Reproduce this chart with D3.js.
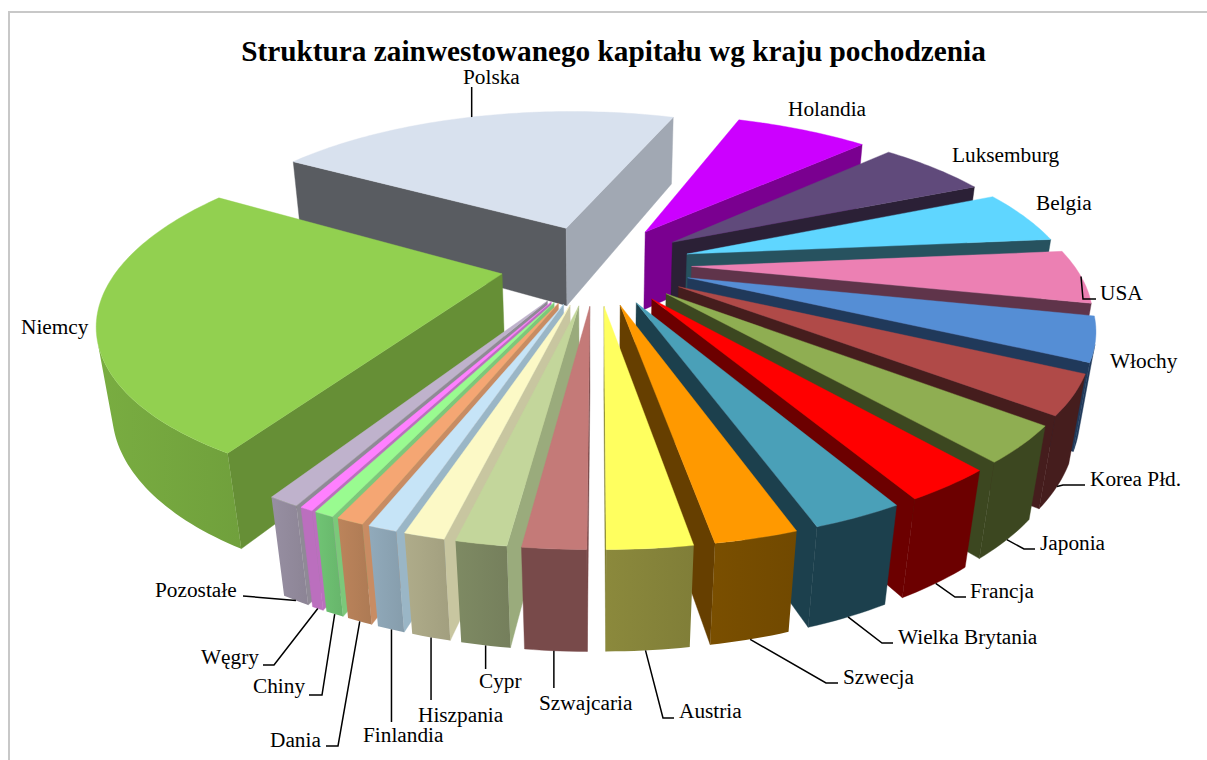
<!DOCTYPE html>
<html>
<head>
<meta charset="utf-8">
<script src="https://cdn.jsdelivr.net/npm/d3@7"></script>
<style>
  html, body { margin: 0; background: #fff; }
  svg { display: block; }
  text { font-family: "Liberation Serif", serif; fill: #000; }
</style>
</head>
<body>
<div id="chart"></div>
<script>
const width = 1207;
const height = 760;

// shares in percent, Polska first and then clockwise
const countries = ["Polska", "Holandia", "Luksemburg", "Belgia", "USA", "Włochy", "Korea Płd.", "Japonia", "Francja",
  "Wielka Brytania", "Szwecja", "Austria", "Szwajcaria", "Cypr", "Hiszpania", "Finlandia", "Dania", "Chiny", "Węgry",
  "Pozostałe", "Niemcy"];
const shares = [21.85, 7.1, 5.7, 5.1, 5.0, 4.0, 3.5, 3.2, 2.87, 2.83, 2.55, 2.58, 1.92, 1.55, 1.25, 0.9, 0.85, 0.62, 0.41, 0.98, 25.17];

const topColors = ["#d8e1ee", "#cc00ff", "#604a7b", "#5fd6ff", "#ec80b3", "#558ed5", "#b04a48", "#8fae52", "#ff0000",
  "#4aa0b8", "#ff9900", "#ffff5f", "#c47a78", "#c3d69b", "#fcf9c6", "#c6e4f7", "#f5a673", "#99fb90", "#ff80ff",
  "#bfb2cc", "#92d050"];
const wallColors = ["#595c61", "#7a0090", "#2b2036", "#27525f", "#5f344a", "#20395a", "#451d1d", "#3c4720", "#6c0000",
  "#1c404d", "#663f00", "#7f7d30", "#784a4a", "#9aab7c", "#c8c6a0", "#9ab6c6", "#c88c63", "#7cc87a", "#bb6fbe",
  "#8f8a96", "#668f36"];
const rimColors = ["#a1a8b3", "#7a0090", "#2b2036", "#27525f", "#5f344a", "#20395a", "#451d1d", "#3c4720", "#6c0000",
  "#1c404d", "#764c00", "#86843a", "#784a4a", "#7a8560", "#a9a685", "#8ca4b4", "#b57f58", "#6cbd70", "#bb6fbe",
  "#928a9c", "#75a73f"];
// Polska is the only slice showing both cut faces, the right one is lit
const endWallColors = wallColors.slice();
endWallColors[0] = "#a1a8b3";

// label text position and the elbow of its leader line, a null x keeps the line vertical
const labelLayout = {
  "Polska": { x: 463, y: 83.5, elbow: [[null, 87]], level: 0, at: 0.497 },
  "Holandia": { x: 788, y: 115.5 },
  "Luksemburg": { x: 952, y: 161.5 },
  "Belgia": { x: 1036, y: 209.5 },
  "USA": { x: 1100, y: 299.5, elbow: [[1083, 299], [1096, 299]], level: 0 },
  "Włochy": { x: 1110, y: 367.5 },
  "Korea Płd.": { x: 1090, y: 485.5, elbow: [[1063, 485], [1085, 485]] },
  "Japonia": { x: 1040, y: 549.5, elbow: [[1024, 549], [1035, 549]] },
  "Francja": { x: 970, y: 598, elbow: [[955, 597], [966, 597]] },
  "Wielka Brytania": { x: 898, y: 644, elbow: [[882, 643], [893, 643]] },
  "Szwecja": { x: 843, y: 684, elbow: [[826, 683], [838, 683]] },
  "Austria": { x: 679, y: 717.5, elbow: [[663, 718], [674, 718]], at: 0.53 },
  "Szwajcaria": { x: 539, y: 709.5, elbow: [[null, 688]], at: 0.53 },
  "Cypr": { x: 479, y: 688, elbow: [[null, 669]] },
  "Hiszpania": { x: 418, y: 721.5, elbow: [[null, 700]] },
  "Finlandia": { x: 363, y: 742, elbow: [[null, 722]], at: 0.48 },
  "Dania": { x: 270, y: 746.5, elbow: [[338, 746], [326, 746]] },
  "Chiny": { x: 253, y: 692.5, elbow: [[322, 695], [309, 695]] },
  "Węgry": { x: 201, y: 663.5, elbow: [[274, 665], [263, 665]] },
  "Pozostałe": { x: 155, y: 597, elbow: [[243, 596]] },
  "Niemcy": { x: 21, y: 333.5 }
};

const svg = d3.select("#chart").append("svg").attr("width", width).attr("height", height);
const defs = svg.append("defs");

svg.append("path")
  .attr("d", `M${width},12H9V${height}`)
  .attr("fill", "none")
  .attr("stroke", "#c8c8c8")
  .attr("stroke-width", 2);

svg.append("text")
  .attr("x", 613.5)
  .attr("y", 60.5)
  .attr("text-anchor", "middle")
  .attr("font-size", 29.3)
  .attr("font-weight", 700)
  .text("Struktura zainwestowanego kapitału wg kraju pochodzenia");

// perspective camera, ground radius of the pie is 1
const cx = 596, cy = 264;
const scaleX = 381.6, scaleZ = 160, tilt = 0.24;
const wallHeight = 83, wallShrink = 0.03;
const explode = 0.25;

function project(x, z, level) {
  const d = 1 - tilt * z + wallShrink * level;
  return [cx + (scaleX * x) / d, cy + (scaleZ * z + wallHeight * level) / d];
}

const arcs = d3.pie().sort(null).startAngle((-58.7 * Math.PI) / 180).endAngle((301.3 * Math.PI) / 180)(shares);

const slices = arcs.map((a, i) => {
  const mid = (a.startAngle + a.endAngle) / 2;
  const ox = explode * Math.sin(mid);
  const oz = -explode * Math.cos(mid);
  const steps = Math.max(2, Math.ceil((a.endAngle - a.startAngle) / 0.02));
  const angles = d3.range(steps + 1).map((k) => a.startAngle + ((a.endAngle - a.startAngle) * k) / steps);
  const rim = angles.map((t) => [ox + Math.sin(t), oz - Math.cos(t)]);
  return { i, name: countries[i], a, ox, oz, rim, depth: -Math.cos(mid) };
});

const line = d3.line();
const pathOf = (pts) => line(pts) + "Z";

function drawPoly(g, pts, fill) {
  g.append("path").attr("d", pathOf(pts)).attr("fill", fill).attr("stroke", fill).attr("stroke-width", 0.4);
}

function wallQuad(p, q) {
  return [project(p[0], p[1], 0), project(q[0], q[1], 0), project(q[0], q[1], 1), project(p[0], p[1], 1)];
}

// painter's order: back slices first
const draw = slices.slice().sort((a, b) => a.depth - b.depth);

const pies = svg.append("g");
draw.forEach((s) => {
  const g = pies.append("g").attr("class", "slice");
  const apex = [s.ox, s.oz];
  const first = s.rim[0];
  const last = s.rim[s.rim.length - 1];

  const startWall = wallQuad(apex, first);
  if (d3.polygonArea(startWall) > 0) drawPoly(g, startWall, wallColors[s.i]);
  const endWall = wallQuad(last, apex);
  if (d3.polygonArea(endWall) > 0) drawPoly(g, endWall, endWallColors[s.i]);

  // the part of the rim facing the viewer is one polygon,
  // with a soft left to right shade unless it has the same flat colour as the cut faces
  const facing = d3.pairs(s.rim).filter(([p, q]) => d3.polygonArea(wallQuad(p, q)) > 0);
  if (facing.length) {
    const upper = facing.map(([p]) => project(p[0], p[1], 0));
    const lower = facing.map(([p]) => project(p[0], p[1], 1));
    const end = facing[facing.length - 1][1];
    upper.push(project(end[0], end[1], 0));
    lower.push(project(end[0], end[1], 1));
    const pts = upper.concat(lower.reverse());
    if (rimColors[s.i] === wallColors[s.i]) {
      drawPoly(g, pts, rimColors[s.i]);
    } else {
      const [x0, x1] = d3.extent(pts, (d) => d[0]);
      const id = `rim-${s.i}`;
      const grad = defs.append("linearGradient")
        .attr("id", id)
        .attr("gradientUnits", "userSpaceOnUse")
        .attr("x1", x0)
        .attr("x2", x1)
        .attr("y1", 0)
        .attr("y2", 0);
      const base = d3.color(rimColors[s.i]);
      grad.append("stop").attr("offset", 0).attr("stop-color", base.brighter(0.1).formatHex());
      grad.append("stop").attr("offset", 1).attr("stop-color", base.darker(0.12).formatHex());
      g.append("path").attr("d", pathOf(pts)).attr("fill", `url(#${id})`);
    }
  }

  drawPoly(g, [apex].concat(s.rim).map((p) => project(p[0], p[1], 0)), topColors[s.i]);
});

// labels and leader lines
slices.forEach((s) => {
  const lay = labelLayout[s.name];
  svg.append("text").attr("x", lay.x).attr("y", lay.y).attr("font-size", 21.3).text(s.name);
  if (!lay.elbow) return;
  const level = lay.level === 0 ? 0 : 1;
  const t = s.a.startAngle + (s.a.endAngle - s.a.startAngle) * (lay.at === undefined ? 0.5 : lay.at);
  const start = project(s.ox + Math.sin(t), s.oz - Math.cos(t), level);
  const bends = lay.elbow.map(([x, y]) => [x === null ? start[0] : x, y]);
  svg.append("path")
    .attr("d", line([start].concat(bends)))
    .attr("fill", "none")
    .attr("stroke", "#000")
    .attr("stroke-width", 1.5);
});
</script>
</body>
</html>
